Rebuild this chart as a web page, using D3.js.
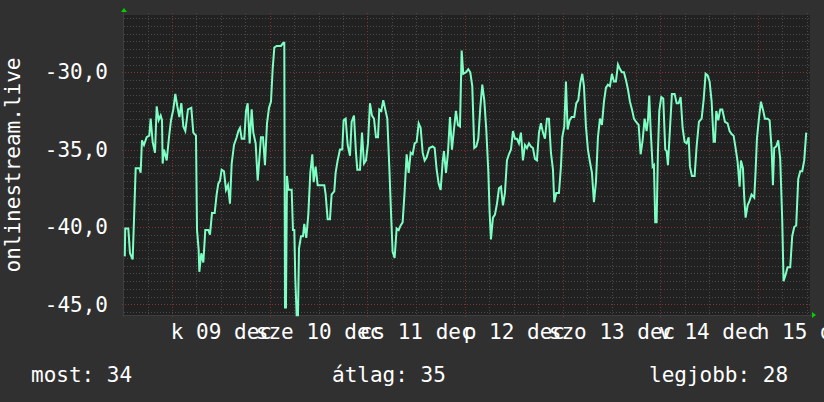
<!DOCTYPE html>
<html><head><meta charset="utf-8">
<script src="https://cdn.jsdelivr.net/npm/d3@7"></script>
<style>
html,body{margin:0;padding:0;background:#303030;}
svg{display:block;}
text{font-family:"DejaVu Sans Mono",monospace;fill:#ffffff;}
</style></head>
<body>
<svg id="c" width="824" height="402"></svg>
<script>
// ---------- data ----------
const title = "onlinestream.live";
const startTime = new Date(2025, 11, 8, 12, 12);   // left edge of the graph
const spanHours = 168.57;                          // one week
const hours = [0.2,0.3,1.06,1.47,2.13,2.46,2.87,3.77,4.09,4.42,4.91,5.57,6.22,6.55,7.04,7.62,8.03,8.52,9.01,9.34,9.5,9.83,10.49,11.06,11.55,12.12,12.61,13.1,13.6,14.09,14.58,15.07,15.72,16.54,17.03,17.69,17.94,18.35,18.51,19.0,19.49,19.98,20.72,21.13,21.62,22.28,22.77,23.17,23.59,24.0,24.57,25.06,25.55,26.04,26.46,27.03,27.69,28.09,28.5,28.92,29.56,29.98,30.39,30.88,31.37,31.78,32.35,32.85,33.17,33.66,34.15,34.64,35.14,35.63,36.12,36.53,36.94,37.52,38.57,39.14,39.39,39.56,39.8,40.05,40.38,40.87,41.2,41.52,41.85,42.09,42.43,42.75,43.0,43.49,43.98,44.3,44.79,45.29,45.78,46.27,46.6,47.09,47.59,48.57,49.22,49.55,50.04,50.61,51.02,51.67,52.0,52.5,53.07,53.64,53.97,54.47,54.96,55.53,55.94,56.51,57.0,57.33,57.99,58.48,58.97,59.46,59.95,60.44,60.93,61.43,61.92,62.41,62.73,63.22,63.71,64.2,64.7,65.19,65.68,66.01,66.5,67.0,67.49,67.98,68.47,68.96,69.45,69.95,70.44,70.93,71.42,71.91,72.41,72.9,73.39,73.88,74.37,75.02,75.85,76.34,76.83,77.32,77.81,78.3,78.62,79.12,79.61,80.1,80.59,81.08,81.57,82.06,82.56,82.97,83.37,84.03,84.6,85.09,85.58,86.07,86.57,87.06,87.55,88.04,88.53,89.02,89.52,89.85,90.17,90.66,91.15,91.65,92.14,92.63,93.12,93.61,94.1,94.59,95.09,95.58,96.07,96.56,97.05,97.54,98.03,98.53,99.02,99.51,100.0,100.49,100.98,101.47,101.97,102.46,102.95,103.44,103.93,104.42,104.91,105.41,105.73,106.22,106.88,107.37,107.7,108.19,108.6,109.01,109.51,110.0,110.64,111.14,111.63,112.12,112.61,113.02,113.51,114.0,114.5,114.99,115.48,115.97,116.46,116.95,117.44,117.94,118.43,118.92,119.41,119.9,120.39,120.88,121.38,121.87,122.36,122.85,123.34,123.83,124.32,124.82,125.31,125.8,126.46,126.95,127.44,127.93,128.42,128.75,129.07,129.41,129.9,130.22,130.54,130.88,131.2,131.53,132.02,132.51,133.0,133.34,133.66,134.15,134.64,135.3,135.8,136.29,136.78,137.27,137.76,138.26,138.75,139.07,139.56,140.22,140.71,141.28,141.94,142.43,142.92,143.41,143.9,144.4,144.89,145.21,145.54,146.03,146.52,147.01,147.67,148.32,148.81,149.31,149.8,150.29,150.78,151.27,151.6,152.09,152.41,152.75,153.24,153.73,154.22,154.87,155.2,155.53,156.02,156.51,157.0,157.49,158.15,158.64,159.13,159.46,159.78,160.27,160.76,161.25,161.74,162.07,162.56,163.05,163.71,164.2,164.69,165.18,165.68,166.17,166.66,167.15,167.64];
const values = [-41.9,-40.1,-40.1,-41.7,-42.1,-39.5,-36.2,-36.2,-36.5,-34.4,-34.7,-34.2,-34.1,-33.0,-34.5,-35.2,-32.2,-33.1,-32.8,-33.1,-35.9,-35.0,-35.7,-34.2,-33.1,-32.4,-31.4,-32.2,-32.9,-32.0,-33.5,-33.8,-32.4,-32.3,-33.9,-34.1,-40.2,-41.5,-42.9,-41.7,-42.3,-40.2,-40.2,-40.5,-39.1,-39.1,-37.9,-37.2,-37.0,-36.3,-36.4,-37.6,-37.3,-38.5,-35.9,-34.7,-34.2,-33.8,-33.6,-34.3,-34.3,-32.5,-32.0,-34.6,-32.4,-33.9,-34.6,-37.0,-35.9,-34.2,-34.2,-36.0,-33.3,-32.3,-31.9,-29.8,-28.4,-28.3,-28.3,-28.1,-28.1,-45.2,-45.2,-36.7,-37.6,-37.6,-37.6,-40.2,-40.2,-43.3,-45.7,-45.7,-41.4,-40.6,-40.6,-39.8,-40.7,-39.2,-36.5,-35.3,-37.1,-36.1,-37.3,-37.3,-37.3,-37.9,-39.5,-39.5,-37.9,-37.7,-36.5,-35.7,-35.0,-35.0,-33.1,-33.0,-34.7,-35.4,-33.2,-32.8,-35.2,-36.3,-36.3,-33.9,-35.9,-35.7,-34.6,-32.0,-32.8,-33.0,-34.2,-34.2,-32.4,-32.5,-31.8,-32.4,-33.0,-36.1,-39.5,-41.6,-42.0,-40.1,-40.2,-39.9,-39.7,-37.7,-35.3,-36.5,-35.2,-35.3,-34.6,-34.5,-33.3,-33.6,-35.2,-35.7,-35.5,-34.9,-34.8,-34.9,-36.3,-37.2,-37.6,-35.8,-35.1,-36.5,-35.2,-32.9,-35.0,-33.7,-32.5,-33.4,-33.5,-28.6,-30.1,-30.0,-29.8,-30.0,-30.9,-34.9,-34.8,-34.3,-32.3,-30.8,-31.8,-33.7,-36.4,-39.1,-40.8,-39.4,-39.2,-38.5,-37.5,-37.4,-38.6,-37.8,-35.7,-35.3,-35.0,-33.8,-34.3,-34.3,-34.6,-33.9,-35.7,-34.7,-34.9,-34.6,-34.8,-34.9,-35.6,-35.7,-33.9,-33.3,-33.9,-34.3,-33.0,-33.0,-35.2,-36.3,-38.4,-37.8,-37.8,-36.1,-34.2,-33.5,-30.6,-33.7,-33.1,-32.9,-32.9,-32.0,-31.8,-30.7,-30.1,-30.9,-33.5,-35.0,-35.8,-36.5,-38.4,-37.1,-34.2,-33.0,-33.4,-31.9,-31.0,-30.8,-30.9,-30.1,-30.6,-30.6,-29.5,-29.8,-30.0,-30.0,-30.5,-31.1,-31.9,-32.4,-33.0,-33.2,-33.4,-35.3,-34.4,-33.0,-33.8,-33.1,-31.5,-33.7,-36.1,-36.0,-39.7,-39.7,-35.2,-32.5,-31.6,-31.7,-35.0,-35.1,-36.0,-33.7,-31.4,-31.4,-32.0,-32.0,-31.6,-33.6,-34.5,-34.6,-34.2,-36.1,-36.7,-36.7,-34.8,-33.2,-33.0,-31.8,-30.1,-30.2,-30.6,-31.9,-34.5,-34.5,-32.5,-33.1,-32.4,-32.4,-33.2,-33.3,-33.8,-34.0,-34.1,-34.9,-35.8,-37.4,-35.7,-36.2,-38.1,-39.4,-38.6,-38.3,-37.9,-38.1,-36.4,-34.3,-33.0,-31.9,-32.4,-33.0,-33.0,-33.1,-34.9,-37.3,-34.9,-34.8,-34.4,-35.6,-39.5,-43.5,-43.1,-42.6,-42.6,-40.6,-40.0,-39.9,-36.9,-36.4,-36.4,-35.7,-33.9];
const yTicks = [-45, -40, -35, -30];
const yDomain = [-45.69, -26.30];
const dayAbbr = ["v", "h", "k", "sze", "cs", "p", "szo"];
const monthAbbr = ["jan","febr","márc","ápr","máj","jún","júl","aug","szept","okt","nov","dec"];
const labelDays = [9, 10, 11, 12, 13, 14, 15];
const legendNames = ["most", "átlag", "legjobb"];

// ---------- layout ----------
const L = 124, R = 810, T = 15, B = 315;
const svg = d3.select("#c");
const x = d3.scaleTime().domain([startTime, new Date(+startTime + spanHours * 3600e3)]).range([L, R]);
const y = d3.scaleLinear().domain(yDomain).range([B, T]);
const data = hours.map((h, i) => ({t: new Date(+startTime + h * 3600e3), v: values[i]}));

svg.append("rect").attr("width", 824).attr("height", 402).attr("fill", "#303030");
svg.append("rect").attr("x", L).attr("y", T).attr("width", R - L).attr("height", B - T).attr("fill", "#212121");

const grid = svg.append("g");
// horizontal minor grid every 0.5
const minorY = d3.range(Math.ceil(yDomain[0] * 2) / 2, yDomain[1], 0.5).filter(v => Math.abs(v % 5) > 1e-6);
grid.selectAll(".hm").data(minorY).enter().append("line")
  .attr("x1", L).attr("x2", R).attr("y1", d => Math.round(y(d)) + 0.5).attr("y2", d => Math.round(y(d)) + 0.5)
  .attr("stroke", "#4a4a4a").attr("stroke-dasharray", "1,2");
// vertical minor grid every 6h
const minorX = x.ticks(d3.timeHour.every(6)).filter(d => d.getHours() !== 0);
grid.selectAll(".vm").data(minorX).enter().append("line")
  .attr("y1", T - 2).attr("y2", B).attr("x1", d => Math.round(x(d)) + 0.5).attr("x2", d => Math.round(x(d)) + 0.5)
  .attr("stroke", "#4a4a4a").attr("stroke-dasharray", "1,2");
// major horizontal
grid.selectAll(".hM").data(yTicks).enter().append("line")
  .attr("x1", L - 2).attr("x2", R + 2).attr("y1", d => Math.round(y(d)) + 0.5).attr("y2", d => Math.round(y(d)) + 0.5)
  .attr("stroke", "#7a3434").attr("stroke-dasharray", "1,2");
// major vertical (midnights)
const majorX = x.ticks(d3.timeDay.every(1));
grid.selectAll(".vM").data(majorX).enter().append("line")
  .attr("y1", T - 2).attr("y2", B + 2).attr("x1", d => Math.round(x(d)) + 0.5).attr("x2", d => Math.round(x(d)) + 0.5)
  .attr("stroke", "#7a3434").attr("stroke-dasharray", "1,2");

// axis lines
svg.append("line").attr("x1", L - 0.5).attr("x2", L - 0.5).attr("y1", T - 3).attr("y2", B + 2).attr("stroke", "#3e3e3e");
svg.append("line").attr("x1", L - 2).attr("x2", R + 2).attr("y1", B + 0.5).attr("y2", B + 0.5).attr("stroke", "#3e3e3e");
// arrows
svg.append("path").attr("d", `M${L - 3},${T - 3}L${L + 3},${T - 3}L${L},${T - 7}Z`).attr("fill", "#00d000");
svg.append("path").attr("d", `M${R + 2},${B - 3}L${R + 2},${B + 3}L${R + 6},${B}Z`).attr("fill", "#00d000");

// data line
const line = d3.line().x(d => x(d.t)).y(d => y(d.v));
svg.append("path").datum(data).attr("d", line).attr("fill", "none")
  .attr("stroke", "#7dffc4").attr("stroke-width", 2).attr("stroke-linejoin", "miter");

// y axis labels
const yAxis = d3.axisLeft(y).tickValues(yTicks).tickSize(0).tickPadding(16)
  .tickFormat(d => d.toFixed(1).replace(".", ","));
const gy = svg.append("g").attr("transform", `translate(${L},0)`).call(yAxis);
gy.select(".domain").remove();
gy.selectAll("text").attr("font-size", 21).attr("font-family", "DejaVu Sans Mono").attr("fill", "#fff");

// x axis labels (centred at noon)
const noons = labelDays.map(d => new Date(2025, 11, d, 12, 0));
const fmt = d => `${dayAbbr[d.getDay()]} ${d3.timeFormat("%d")(d)} ${monthAbbr[d.getMonth()]}`;
const xAxis = d3.axisBottom(x).tickValues(noons).tickSize(0).tickPadding(9).tickFormat(fmt);
const gx = svg.append("g").attr("transform", `translate(0,${B})`).call(xAxis);
gx.select(".domain").remove();
gx.selectAll("text").attr("font-size", 21).attr("font-family", "DejaVu Sans Mono").attr("fill", "#fff");

// y title
svg.append("text").attr("transform", `translate(20,${(T + B) / 2}) rotate(-90)`)
  .attr("text-anchor", "middle").attr("font-size", 21).text(title);

// legend
const last = values[values.length - 1];
const avg = d3.mean(values);
const best = d3.max(values);
const legendVals = [last, avg, best].map(v => Math.round(-v));
const legendX = [31, 332, 649];
svg.selectAll(".lg").data(legendNames).enter().append("text")
  .attr("x", (d, i) => legendX[i]).attr("y", 382).attr("font-size", 21)
  .text((d, i) => `${d}: ${legendVals[i]}`);
</script>
</body></html>
